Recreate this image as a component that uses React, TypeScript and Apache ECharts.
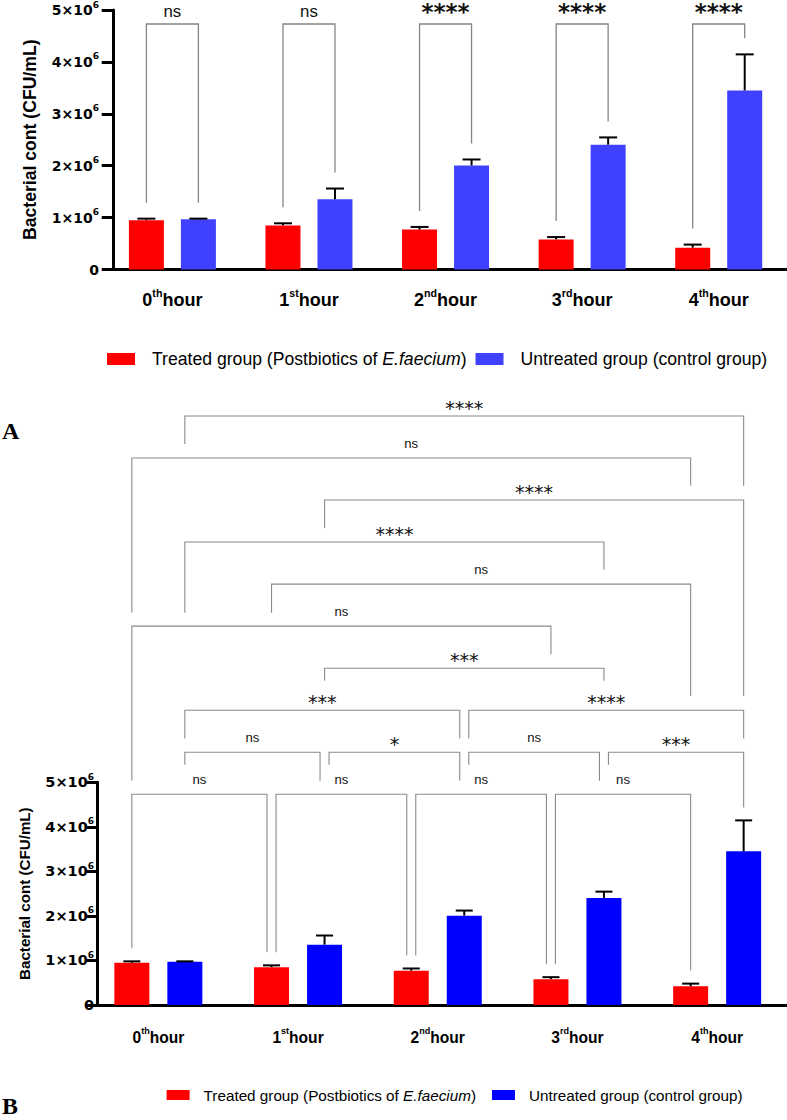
import React, { useEffect, useRef } from 'react';
import * as echarts from 'echarts';

// ---------- data ----------
const hourIndex = ['0', '1', '2', '3', '4'];
const hourSuffix = ['th', 'st', 'nd', 'rd', 'th'];
const treatedMean = [0.95e6, 0.85e6, 0.77e6, 0.58e6, 0.42e6];
const treatedErr = [0.03e6, 0.04e6, 0.05e6, 0.045e6, 0.06e6];
const controlMean = [0.97e6, 1.355e6, 2.005e6, 2.405e6, 3.45e6];
const controlErr = [0.01e6, 0.205e6, 0.115e6, 0.14e6, 0.695e6];
const yMax = 5e6;
const yStep = 1e6;
const treatedName = 'Treated group (Postbiotics of E.faecium)';
const controlName = 'Untreated group (control group)';
const sigA = ['ns', 'ns', '****', '****', '****'];

// bracket: [fromHour, fromGroup(0 treated / 1 control), toHour, toGroup, label, row, leftStopRow|null, rightStopRow|null]
type Bracket = [number, number, number, number, string, number, number | null, number | null];
const bracketsA: Bracket[] = sigA.map((s, i) => [i, 0, i, 1, s, 0, null, null] as Bracket);
const bracketsB: Bracket[] = [
  [0, 1, 4, 1, '****', 9, 8.33, 7.34],
  [0, 0, 4, 0, 'ns', 8, 4.32, 7.34],
  [1, 1, 4, 1, '****', 7, 6.33, 2.34],
  [0, 1, 3, 1, '****', 6, 4.32, 5.34],
  [1, 0, 4, 0, 'ns', 5, 4.32, 2.34],
  [0, 0, 3, 0, 'ns', 4, 0.32, 3.33],
  [1, 1, 3, 1, '***', 3, 2.7, 2.7],
  [0, 1, 2, 1, '***', 2, 1.33, 1.33],
  [2, 1, 4, 1, '****', 2, 1.33, 1.33],
  [0, 1, 1, 1, 'ns', 1, 0.7, 0.32],
  [1, 1, 2, 1, '*', 1, 0.7, 0.32],
  [2, 1, 3, 1, 'ns', 1, 0.7, 0.32],
  [3, 1, 4, 1, '***', 1, 0.7, null],
  [0, 0, 1, 0, 'ns', 0, null, null],
  [1, 0, 2, 0, 'ns', 0, null, null],
  [2, 0, 3, 0, 'ns', 0, null, null],
  [3, 0, 4, 0, 'ns', 0, null, null],
];

// ---------- layout ----------
const panelA = {
  gridLeft: 104.1, gridTop: 8, gridWidth: 688.75, gridHeight: 261.5, yOffset: -8.9,
  barWidth: 35, barGapPx: 17, red: '#ff0000', blue: '#4040ff',
  axisW: 3, xTickLen: 12, yTickLen: 11.3, yLabelMargin: 14, yLabelSize: 14, ySupSize: 9,
  xLabelSize: 22, xSupSize: 13, xLabelMargin: 18, nameSize: 21.5, nameGap: 74,
  legendLeft: 107, legendCenter: 359, legendSize: 21.5, swatchW: 28, swatchH: 12, swatchGap: 17, itemGap: 9,
  capW: 18, errW: 2, row0: 14, rowStep: 0, legGap: 16, nudge: 0,
  bracketColor: '#858585', bracketW: 1.3,
  nsSize: 20.5, nsDy: 12.6, starSize: 23, starWeight: 'bold', starDy: 11.9,
  letter: 'A', letterY: 431,
};
const panelB = {
  gridLeft: 88.5, gridTop: 782.3, gridWidth: 705, gridHeight: 222.7, yOffset: -8.5,
  barWidth: 35, barGapPx: 18, red: '#ff0000', blue: '#0000ff',
  axisW: 3, xTickLen: 11, yTickLen: 10, yLabelMargin: 3, yLabelSize: 14.5, ySupSize: 9,
  xLabelSize: 19, xSupSize: 11, xLabelMargin: 21.5, nameSize: 18.5, nameGap: 65,
  legendLeft: 166.6, legendCenter: 1095, legendSize: 18.6, swatchW: 23, swatchH: 10, swatchGap: 14, itemGap: 16,
  capW: 17, errW: 2, row0: 12, rowStep: 42.04, legGap: 13, nudge: 4.5,
  bracketColor: '#8a8a8a', bracketW: 1.1,
  nsSize: 16, nsDy: 14.9, starSize: 19, starWeight: 'normal', starDy: 7.8,
  letter: 'B', letterY: 1106,
};

function detectNarrow(): boolean {
  try {
    const ctx = document.createElement('canvas').getContext('2d') as CanvasRenderingContext2D;
    const s = 'Treated group (Postbiotics of E.faecium)';
    ctx.font = "20px 'Liberation Sans Narrow', monospace";
    const a = ctx.measureText(s).width;
    ctx.font = "20px 'Liberation Sans', monospace";
    const b = ctx.measureText(s).width;
    return a < b * 0.92;
  } catch (e) {
    return false;
  }
}

function buildOption(p: any, narrow: boolean) {
  const sans = narrow ? "'Liberation Sans Narrow'" : "'Liberation Sans'";
  const k = narrow ? 1 : 0.82;
  const off = (p.barWidth + p.barGapPx) / 2;
  const barTopValue = (c: number, g: number) =>
    g === 0 ? treatedMean[c] + treatedErr[c] : controlMean[c] + controlErr[c];

  const bracketList: Bracket[] = p.letter === 'A' ? bracketsA : bracketsB;

  const bracketSeries = {
    type: 'custom', silent: true, clip: false, z: 6,
    data: bracketList.map((_, i) => [0, 0, i]),
    encode: { x: 0, y: 1 },
    renderItem: (params: any, api: any) => {
      const b = bracketList[params.dataIndex];
      const [c1, g1, c2, g2, label, row, stopL, stopR] = b;
      const cx = (c: number, g: number) => api.coord([c, 0])[0] + (g === 0 ? -off : off);
      const topY = api.coord([0, yMax])[1];
      const rowY = (r: number) => topY + p.row0 - r * p.rowStep;
      const legEnd = (c: number, g: number) => api.coord([c, barTopValue(c, g)])[1] - p.legGap;
      const shareL = bracketList.some((o) => o !== b && o[5] === row && o[2] === c1 && o[3] === g1);
      const shareR = bracketList.some((o) => o !== b && o[5] === row && o[0] === c2 && o[1] === g2);
      const x1 = cx(c1, g1) + (shareL ? p.nudge : 0);
      const x2 = cx(c2, g2) - (shareR ? p.nudge : 0);
      const y = rowY(row);
      const yl = stopL == null ? legEnd(c1, g1) : rowY(stopL);
      const yr = stopR == null ? legEnd(c2, g2) : rowY(stopR);
      const star = label.indexOf('*') >= 0;
      return {
        type: 'group',
        children: [
          {
            type: 'polyline',
            shape: { points: [[x1, yl], [x1, y], [x2, y], [x2, yr]] },
            style: { stroke: p.bracketColor, lineWidth: p.bracketW, fill: 'none' },
          },
          {
            type: 'text',
            style: {
              text: label,
              x: (x1 + x2) / 2,
              y: y - (star ? p.starDy : p.nsDy),
              align: 'center',
              verticalAlign: 'middle',
              fill: '#111',
              fontFamily: star ? "'DejaVu Sans'" : sans,
              fontSize: star ? p.starSize : p.nsSize * k,
              fontWeight: star ? p.starWeight : 'normal',
            },
          },
        ],
      };
    },
  };

  const errorSeries = (means: number[], errs: number[], side: number) => ({
    type: 'custom', silent: true, clip: false, z: 4,
    data: means.map((m, i) => [i, m, errs[i]]),
    encode: { x: 0, y: 1 },
    renderItem: (params: any, api: any) => {
      const c = api.value(0);
      const m = api.value(1);
      const e = api.value(2);
      const a = api.coord([c, m]);
      const t = api.coord([c, m + e]);
      const x = a[0] + side * off;
      return {
        type: 'group',
        children: [
          { type: 'line', shape: { x1: x, y1: a[1], x2: x, y2: t[1] }, style: { stroke: '#000', lineWidth: p.errW } },
          { type: 'line', shape: { x1: x - p.capW / 2, y1: t[1], x2: x + p.capW / 2, y2: t[1] }, style: { stroke: '#000', lineWidth: p.errW } },
        ],
      };
    },
  });

  const gapPct = `${((p.barGapPx / p.barWidth) * 100).toFixed(2)}%`;
  const legendLH = Math.round(p.legendSize * k + 2);

  return {
    animation: false,
    backgroundColor: 'transparent',
    grid: { left: p.gridLeft, top: p.gridTop, width: p.gridWidth, height: p.gridHeight, containLabel: false },
    xAxis: {
      type: 'category',
      data: hourIndex,
      axisLine: { lineStyle: { color: '#000', width: p.axisW } },
      axisTick: { alignWithLabel: true, length: p.xTickLen, lineStyle: { color: '#000', width: p.axisW } },
      axisLabel: {
        interval: 0,
        margin: p.xLabelMargin,
        formatter: (v: string, i: number) => `{n|${v}}{s|${hourSuffix[i]}}{n|hour}`,
        rich: {
          n: { fontFamily: sans, fontWeight: 'bold', fontSize: p.xLabelSize * k, lineHeight: p.xLabelSize + 2, color: '#000' },
          s: { fontFamily: sans, fontWeight: 'bold', fontSize: p.xSupSize * k, verticalAlign: 'top', color: '#000' },
        },
      },
    },
    yAxis: {
      type: 'value',
      min: 0,
      max: yMax,
      interval: yStep,
      offset: p.yOffset,
      axisLine: { show: true, lineStyle: { color: '#000', width: p.axisW } },
      axisTick: { show: true, length: p.yTickLen, lineStyle: { color: '#000', width: p.axisW } },
      splitLine: { show: false },
      axisLabel: {
        margin: p.yLabelMargin,
        formatter: (v: number) => (v === 0 ? '{n|0}' : `{n|${v / 1e6}×10}{s|6}`),
        rich: {
          n: { fontFamily: "'DejaVu Sans'", fontWeight: 'bold', fontSize: p.yLabelSize, lineHeight: 20, color: '#000' },
          s: { fontFamily: "'DejaVu Sans'", fontWeight: 'bold', fontSize: p.ySupSize, verticalAlign: 'top', color: '#000' },
        },
      },
      name: 'Bacterial cont (CFU/mL)',
      nameLocation: 'middle',
      nameGap: p.nameGap,
      nameTextStyle: { fontFamily: sans, fontWeight: 'bold', fontSize: p.nameSize * k, color: '#000' },
    },
    legend: {
      left: p.legendLeft,
      top: p.legendCenter - legendLH / 2,
      padding: 0,
      icon: 'rect',
      itemWidth: p.swatchW,
      itemHeight: p.swatchH,
      itemGap: p.itemGap,
      selectedMode: false,
      data: [treatedName, controlName],
      formatter: (name: string) => (name === treatedName ? 'Treated group (Postbiotics of {i|E.faecium})' : name),
      textStyle: {
        fontFamily: sans,
        fontSize: p.legendSize * k,
        lineHeight: legendLH,
        color: '#000',
        padding: [0, 0, 0, p.swatchGap - 5],
        rich: {
          i: { fontFamily: sans, fontStyle: 'italic', fontSize: p.legendSize * k, lineHeight: legendLH, color: '#000' },
        },
      },
    },
    graphic: [
      {
        type: 'text',
        x: 2,
        y: p.letterY,
        style: {
          text: p.letter,
          fontFamily: "'Liberation Serif'",
          fontWeight: 'bold',
          fontSize: 24,
          verticalAlign: 'middle',
          fill: '#000',
        },
      },
    ],
    series: [
      { type: 'bar', name: treatedName, data: treatedMean, barWidth: p.barWidth, barGap: gapPct, itemStyle: { color: p.red }, z: 2 },
      { type: 'bar', name: controlName, data: controlMean, barWidth: p.barWidth, barGap: gapPct, itemStyle: { color: p.blue }, z: 2 },
      errorSeries(treatedMean, treatedErr, -1),
      errorSeries(controlMean, controlErr, 1),
      bracketSeries,
    ],
  };
}

export default function App() {
  const refA = useRef<HTMLDivElement>(null);
  const refB = useRef<HTMLDivElement>(null);

  useEffect(() => {
    document.body.style.margin = '0';
    const narrow = detectNarrow();
    const ca = echarts.init(refA.current as HTMLDivElement, undefined, { renderer: 'svg' });
    const cb = echarts.init(refB.current as HTMLDivElement, undefined, { renderer: 'svg' });
    ca.setOption(buildOption(panelA, narrow) as any);
    cb.setOption(buildOption(panelB, narrow) as any);
    return () => {
      ca.dispose();
      cb.dispose();
    };
  }, []);

  const full: React.CSSProperties = { position: 'absolute', left: 0, top: 0, width: 787, height: 1120 };
  return (
    <div style={{ position: 'relative', width: 787, height: 1120, background: '#fff' }}>
      <div ref={refA} style={full} />
      <div ref={refB} style={full} />
    </div>
  );
}
